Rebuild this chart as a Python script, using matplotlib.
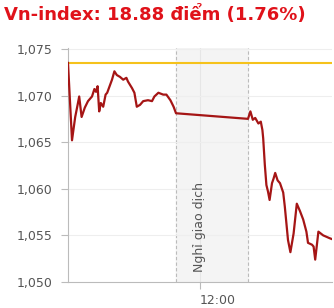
import matplotlib
matplotlib.use("Agg")
import matplotlib.pyplot as plt

# minutes after 9:00
minutes = [15, 20, 24, 27, 29, 32, 36, 40, 45, 48, 50, 52, 54, 56, 59, 62, 64,
           67, 70, 73, 76, 80, 84, 88, 90, 95, 98, 101, 105, 109, 115, 120,
           123, 128, 134, 138, 143, 147, 150,
           240, 243, 246, 249, 253, 256, 258, 259, 261, 263, 265, 267, 270,
           272, 274, 277, 280, 284, 286, 290, 293, 297, 301, 305, 309, 313,
           315, 320, 322, 324, 328, 334, 342, 345]
index_values = [1073.5, 1065.2, 1067.7, 1069.0, 1069.9, 1067.7, 1068.7, 1069.4,
                1069.9, 1070.7, 1070.4, 1071.0, 1068.3, 1069.2, 1068.8, 1070.1,
                1070.3, 1071.0, 1071.7, 1072.6, 1072.2, 1072.0, 1071.7, 1071.9,
                1071.5, 1070.8, 1070.3, 1068.8, 1069.0, 1069.4, 1069.5, 1069.4,
                1069.9, 1070.3, 1070.1, 1070.1, 1069.5, 1068.8, 1068.1,
                1067.5, 1068.3, 1067.4, 1067.6, 1067.0, 1067.2, 1066.3, 1065.4,
                1062.6, 1060.4, 1059.7, 1058.8, 1060.6, 1061.1, 1061.7, 1060.9,
                1060.6, 1059.6, 1058.1, 1054.5, 1053.2, 1055.2, 1058.4, 1057.6,
                1056.7, 1055.4, 1054.2, 1054.0, 1053.8, 1052.4, 1055.4, 1055.0,
                1054.7, 1054.6]
reference_level = 1073.5
break_start, break_end = 150, 240
y_ticks = [1050, 1055, 1060, 1065, 1070, 1075]
y_tick_labels = ["1,050", "1,055", "1,060", "1,065", "1,070", "1,075"]
x_ticks = [180]
x_tick_labels = ["12:00"]

fig = plt.figure(figsize=(3.34, 3.08), dpi=100)
ax = fig.add_axes([68 / 334, 26 / 308, 264 / 334, 234 / 308])

ax.axvspan(break_start, break_end, color="#f4f4f4", zorder=0)
for xb in (break_start, break_end):
    ax.axvline(xb, color="#bbbbbb", lw=0.8, ls=(0, (3, 2)), zorder=1)
ax.axvline(180, color="#e6e6e6", lw=0.8, zorder=1)
for yv in y_ticks[1:]:
    ax.axhline(yv, color="#eeeeee", lw=0.8, zorder=1)

ax.axhline(reference_level, color="#f5c21b", lw=1.5, zorder=2)
ax.plot(minutes, index_values, color="#a51515", lw=1.6, zorder=3)

ax.text(180, 1051.1, "Nghỉ giao dịch", rotation=90, ha="center", va="bottom",
        fontsize=9, color="#555555")

ax.set_xlim(15, 345)
ax.set_ylim(1050, 1075.1)
ax.set_yticks(y_ticks)
ax.set_yticklabels(y_tick_labels)
ax.set_xticks(x_ticks)
ax.set_xticklabels(x_tick_labels)
for lab in ax.get_xticklabels():
    lab.set_ha("left")

ax.tick_params(axis="y", colors="#bbbbbb", labelcolor="#555555", labelsize=9,
               length=5, width=0.8, pad=6)
ax.tick_params(axis="x", colors="#bbbbbb", labelcolor="#555555", labelsize=9,
               length=5, width=0.8, pad=4)
for side in ("top", "right"):
    ax.spines[side].set_visible(False)
for side in ("left", "bottom"):
    ax.spines[side].set_color("#bbbbbb")
    ax.spines[side].set_linewidth(0.8)

fig.text(4 / 334, 1 - 15 / 308, "Vn-index: 18.88 điểm (1.76%)", color="#e0121a",
         fontsize=13, fontweight="bold", ha="left", va="center")

fig.savefig("out.png", dpi=100)
